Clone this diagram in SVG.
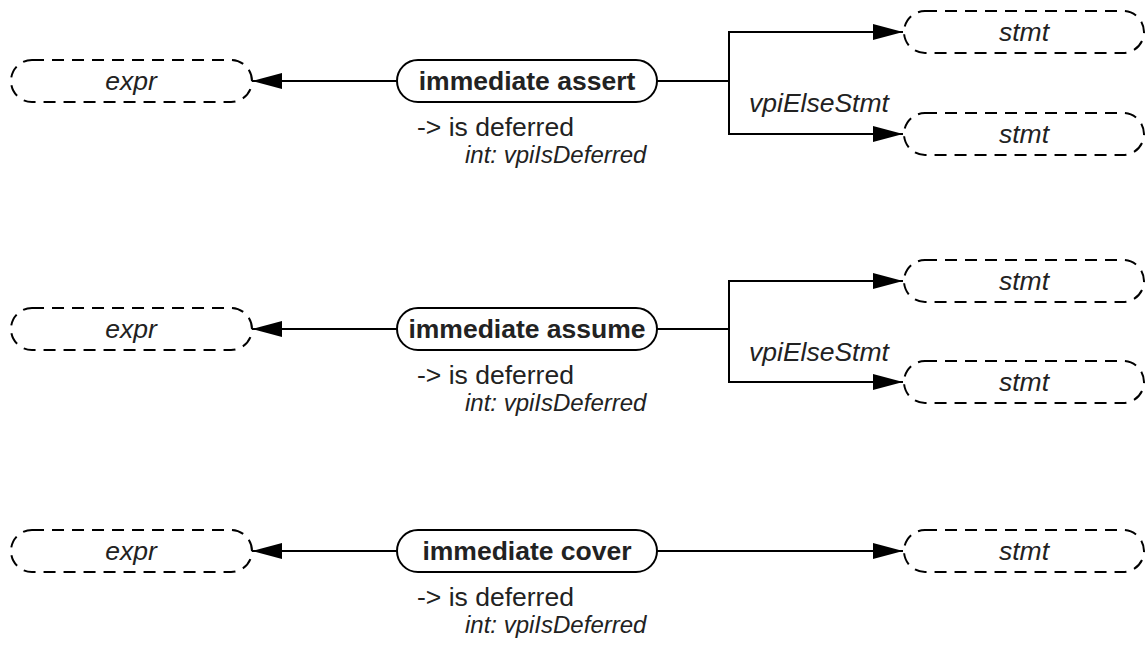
<svg xmlns="http://www.w3.org/2000/svg" width="1146" height="646" viewBox="0 0 1146 646">
<style>
.bg{fill:#fff}
.dash{fill:#fff;stroke:#000;stroke-width:2;stroke-dasharray:12 8}
.main{fill:#fff;stroke:#000;stroke-width:2}
.ln{fill:none;stroke:#000;stroke-width:2}
.t{font-family:"Liberation Sans",Arial,sans-serif;fill:#222}
.it{font-style:italic;font-size:26.5px}
.b{font-weight:bold;font-size:26.5px}
.r{font-size:26.5px}
.s{font-style:italic;font-size:24px}
</style>
<defs>
<marker id="ah" markerWidth="30" markerHeight="16" refX="30" refY="8" orient="auto" markerUnits="userSpaceOnUse">
<path d="M0,0 L30,8 L0,16 Z" fill="#000"/>
</marker>
</defs>
<rect class="bg" x="0" y="0" width="1146" height="646"/>
<g id="connectors">
<line class="ln" x1="397" y1="81" x2="252" y2="81" marker-end="url(#ah)"/>
<polyline class="ln" points="657,81 729,81"/>
<polyline class="ln" points="903,32 729,32 729,134 903,134" marker-end="url(#ah)"/>
<line class="ln" x1="729" y1="32" x2="903" y2="32" marker-end="url(#ah)"/>
<text class="t it" x="749" y="112">vpiElseStmt</text>
<line class="ln" x1="397" y1="329" x2="252" y2="329" marker-end="url(#ah)"/>
<polyline class="ln" points="657,329 729,329"/>
<polyline class="ln" points="903,281 729,281 729,382 903,382" marker-end="url(#ah)"/>
<line class="ln" x1="729" y1="281" x2="903" y2="281" marker-end="url(#ah)"/>
<text class="t it" x="749" y="361">vpiElseStmt</text>
<line class="ln" x1="397" y1="551" x2="252" y2="551" marker-end="url(#ah)"/>
<line class="ln" x1="657" y1="551" x2="903" y2="551" marker-end="url(#ah)"/>
</g>
<g id="expr1"><rect class="dash" x="11" y="60" width="241" height="42" rx="21"/><text class="t it" x="131" y="90" text-anchor="middle">expr</text></g>
<g id="assert"><rect class="main" x="397" y="60" width="260" height="42" rx="21"/><text class="t b" x="527" y="90" text-anchor="middle">immediate assert</text>
<text class="t r" x="417" y="136">-&gt; is deferred</text><text class="t s" x="465" y="163">int: vpiIsDeferred</text></g>
<g id="stmt1a"><rect class="dash" x="904" y="11" width="240" height="42" rx="21"/><text class="t it" x="1024" y="41" text-anchor="middle">stmt</text></g>
<g id="stmt1b"><rect class="dash" x="904" y="113" width="240" height="42" rx="21"/><text class="t it" x="1024" y="143" text-anchor="middle">stmt</text></g>

<g id="expr2"><rect class="dash" x="11" y="308" width="241" height="42" rx="21"/><text class="t it" x="131" y="338" text-anchor="middle">expr</text></g>
<g id="assume"><rect class="main" x="397" y="308" width="260" height="42" rx="21"/><text class="t b" x="527" y="338" text-anchor="middle">immediate assume</text>
<text class="t r" x="417" y="384">-&gt; is deferred</text><text class="t s" x="465" y="411">int: vpiIsDeferred</text></g>
<g id="stmt2a"><rect class="dash" x="904" y="260" width="240" height="42" rx="21"/><text class="t it" x="1024" y="290" text-anchor="middle">stmt</text></g>
<g id="stmt2b"><rect class="dash" x="904" y="361" width="240" height="42" rx="21"/><text class="t it" x="1024" y="391" text-anchor="middle">stmt</text></g>

<g id="expr3"><rect class="dash" x="11" y="530" width="241" height="42" rx="21"/><text class="t it" x="131" y="560" text-anchor="middle">expr</text></g>
<g id="cover"><rect class="main" x="397" y="530" width="260" height="42" rx="21"/><text class="t b" x="527" y="560" text-anchor="middle">immediate cover</text>
<text class="t r" x="417" y="606">-&gt; is deferred</text><text class="t s" x="465" y="633">int: vpiIsDeferred</text></g>
<g id="stmt3"><rect class="dash" x="904" y="530" width="240" height="42" rx="21"/><text class="t it" x="1024" y="560" text-anchor="middle">stmt</text></g>
</svg>
